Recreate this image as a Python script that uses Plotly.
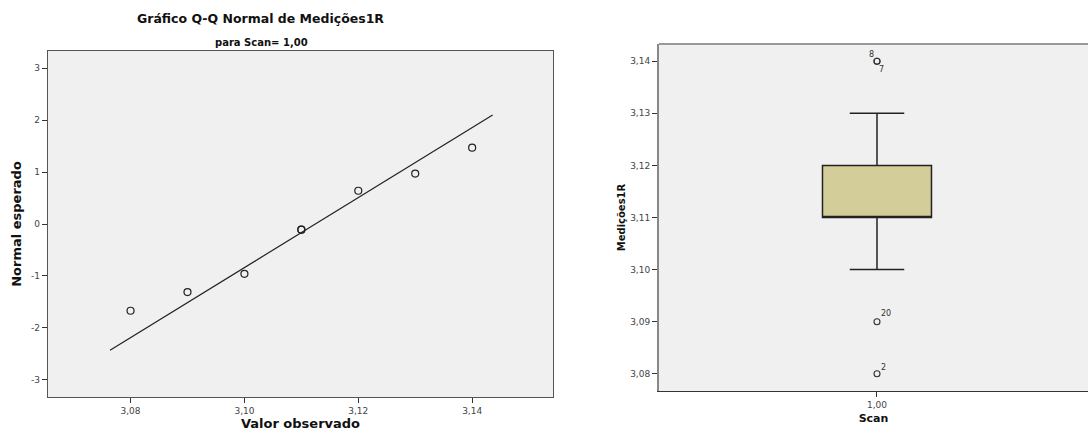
import plotly.graph_objects as go

# ---- Q-Q plot data ----
qq_observed = [3.08, 3.09, 3.10, 3.11, 3.11, 3.12, 3.13, 3.14]
qq_expected = [-1.67, -1.31, -0.96, -0.11, -0.11, 0.64, 0.97, 1.47]
qq_line_x = [3.0764, 3.1436]
qq_line_y = [-2.43, 2.10]
qq_xticks = [3.08, 3.10, 3.12, 3.14]
qq_yticks = [-3, -2, -1, 0, 1, 2, 3]
qq_yticktext = ["-3", "-2", "-1", "0", "1", "2", "3"]

# ---- Box plot data ----
box_x = [1.0]
box_q1 = [3.11]
box_median = [3.11]
box_q3 = [3.12]
box_low = [3.10]
box_high = [3.13]
outlier_values = [3.14, 3.14, 3.09, 3.08]
outlier_labels = ["8", "7", "20", "2"]
box_yticks = [3.08, 3.09, 3.10, 3.11, 3.12, 3.13, 3.14]

FONT = "DejaVu Sans"
DARK = "#222222"

fig = go.Figure()

# Q-Q reference line
fig.add_trace(go.Scatter(x=qq_line_x, y=qq_line_y, mode="lines",
                         line=dict(color=DARK, width=1.2),
                         xaxis="x", yaxis="y", showlegend=False, hoverinfo="skip"))
# Q-Q points
fig.add_trace(go.Scatter(x=qq_observed, y=qq_expected, mode="markers",
                         marker=dict(symbol="circle-open", size=7, color=DARK,
                                     line=dict(width=1.2, color=DARK)),
                         xaxis="x", yaxis="y", showlegend=False))

# Box
fig.add_trace(go.Box(x=box_x, q1=box_q1, median=box_median, q3=box_q3,
                     lowerfence=box_low, upperfence=box_high,
                     width=0.5, whiskerwidth=0.5, boxpoints=False,
                     fillcolor="#D3CE99", line=dict(color=DARK, width=1.5),
                     xaxis="x2", yaxis="y2", showlegend=False))
# Outliers
fig.add_trace(go.Scatter(x=[box_x[0]] * len(outlier_values), y=outlier_values,
                         mode="markers",
                         marker=dict(symbol="circle-open", size=6, color="#333333",
                                     line=dict(width=1.1, color="#333333")),
                         xaxis="x2", yaxis="y2", showlegend=False))

label_shifts = [(-5, 7), (5, -8), (9, 8), (7, 6)]
annotations = []
for v, lab, (dx, dy) in zip(outlier_values, outlier_labels, label_shifts):
    annotations.append(dict(x=box_x[0], y=v, xref="x2", yref="y2", text=lab,
                            showarrow=False, xshift=dx, yshift=dy,
                            font=dict(family=FONT, size=8, color="#333333")))

# Titles
annotations += [
    dict(x=260 / 1088, y=1 - 19 / 439, xref="paper", yref="paper",
         text="<b>Gráfico Q-Q Normal de Medições1R</b>", showarrow=False,
         font=dict(family=FONT, size=12.5, color="#111111"), xanchor="center", yanchor="middle"),
    dict(x=261 / 1088, y=1 - 42 / 439, xref="paper", yref="paper",
         text="<b>para Scan= 1,00</b>", showarrow=False,
         font=dict(family=FONT, size=10, color="#111111"), xanchor="center", yanchor="middle"),
]

tickfont = dict(family=FONT, size=9, color="#444444")

fig.update_layout(
    width=1088, height=439,
    margin=dict(l=0, r=0, t=0, b=0),
    paper_bgcolor="white", plot_bgcolor="#F0F0F0",
    separators=",.",
    font=dict(family=FONT),
    annotations=annotations,
    xaxis=dict(domain=[48 / 1088, 553 / 1088], range=[3.0655, 3.1542],
               tickvals=qq_xticks, tickformat=".2f", ticks="outside", ticklen=5,
               tickcolor="#333333", tickfont=tickfont, showgrid=False, zeroline=False,
               showline=True, mirror=True, linecolor="#555555", linewidth=1.2,
               title=dict(text="<b>Valor observado</b>", standoff=3,
                          font=dict(family=FONT, size=13, color="#111111")),
               anchor="y"),
    yaxis=dict(domain=[1 - 397 / 439, 1 - 51 / 439], range=[-3.33, 3.33],
               tickvals=qq_yticks, ticktext=qq_yticktext, ticks="outside", ticklen=5,
               tickcolor="#333333", tickfont=tickfont, showgrid=False, zeroline=False,
               showline=True, mirror=True, linecolor="#555555", linewidth=1.2,
               title=dict(text="<b>Normal esperado</b>", standoff=6,
                          font=dict(family=FONT, size=13, color="#111111")),
               anchor="x"),
    xaxis2=dict(domain=[659 / 1088, 1.0], range=[0, 1.968],
                tickvals=box_x, tickformat=".2f", ticks="outside", ticklen=5,
                tickcolor="#333333", tickfont=tickfont, showgrid=False, zeroline=False,
                showline=True, linecolor="#333333", linewidth=1.2,
                title=dict(text="<b>Scan</b>", standoff=5,
                           font=dict(family=FONT, size=11, color="#111111")),
                anchor="y2"),
    yaxis2=dict(domain=[1 - 391 / 439, 1 - 44 / 439], range=[3.0767, 3.1433],
                tickvals=box_yticks, tickformat=".2f", ticks="outside", ticklen=5,
                tickcolor="#333333", tickfont=tickfont, showgrid=False, zeroline=False,
                showline=True, linecolor="#888888", linewidth=2,
                title=dict(text="<b>Medições1R</b>", standoff=3,
                           font=dict(family=FONT, size=10, color="#111111")),
                anchor="x2"),
    shapes=[dict(type="line", xref="paper", yref="paper",
                 x0=659 / 1088, x1=1.0, y0=1 - 44 / 439, y1=1 - 44 / 439,
                 line=dict(color="#999999", width=2))],
)

fig.write_html("out.html")
